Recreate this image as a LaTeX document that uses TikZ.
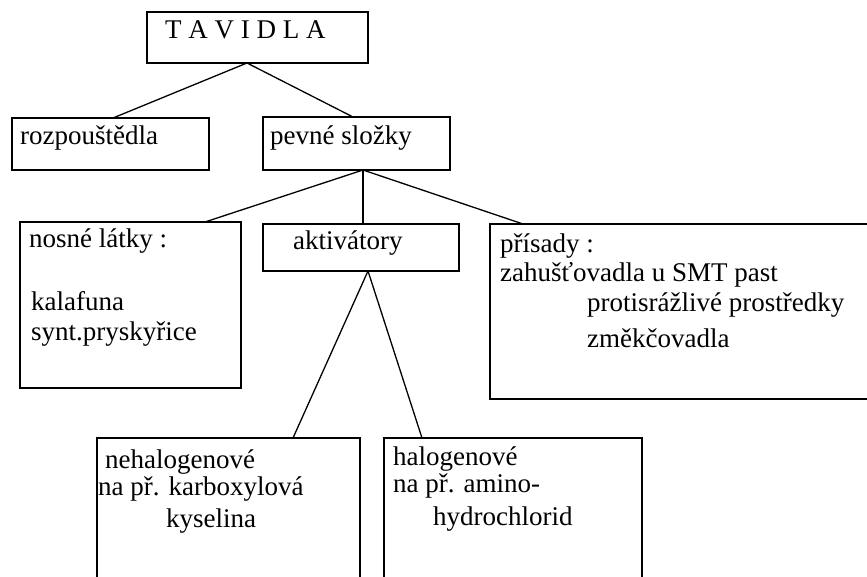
\documentclass[tikz,border=0pt]{standalone}
\usepackage{fontspec}
\setmainfont{Liberation Serif}
\begin{document}
\begin{tikzpicture}[x=1pt,y=-1pt,
  box/.style={draw=black, line width=1.4pt, inner sep=0pt, outer sep=0pt, anchor=north west},
  txt/.style={anchor=base west, inner sep=0pt, font=\fontsize{27}{30}\selectfont},
  link/.style={draw=black, line width=1.3pt}]
\useasboundingbox (0,0) rectangle (867,577);
\clip (0,0) rectangle (867,577);
\fill[white] (0,0) rectangle (867,577);
% boxes
\node[box, minimum width=221, minimum height=51] (tav) at (147,12) {};
\node[box, minimum width=197, minimum height=52] (roz) at (12,118) {};
\node[box, minimum width=187, minimum height=53] (pev) at (263,117) {};
\node[box, minimum width=221, minimum height=166] (nos) at (20,222) {};
\node[box, minimum width=196, minimum height=47] (akt) at (263,224) {};
\node[box, minimum width=400, minimum height=175] (pri) at (490,224) {};
\node[box, minimum width=263, minimum height=160] (neh) at (97,438) {};
\node[box, minimum width=258, minimum height=160] (hal) at (384,438) {};
% texts
\node[txt] (t1) at (165,39) {T A V I D L A};
\node[txt] (t2) at (20,145) {rozpouštědla};
\node[txt] (t3) at (270,145) {pevné složky};
\node[txt] (t4) at (29,248) {nosné látky :};
\node[txt] (t5) at (31,310) {kalafuna};
\node[txt] (t6) at (31,340) {synt.pryskyřice};
\node[txt] (t7) at (293,250) {aktivátory};
\node[txt] (t8) at (500,253) {přísady :};
\node[txt] (t9) at (500,282) {zahušťovadla u SMT past};
\node[txt] (t10) at (587,312) {protisrážlivé prostředky};
\node[txt] (t11) at (587,347) {změkčovadla};
\node[txt] (t12) at (105,468) {nehalogenové};
\node[txt] (t13) at (98,495) {na př. karboxylová};
\node[txt] (t14) at (166,527) {kyselina};
\node[txt] (t15) at (393,465) {halogenové};
\node[txt] (t16) at (393,492) {na př. amino-};
\node[txt] (t17) at (433,525) {hydrochlorid};
% connectors
\draw[link] ([xshift=-10.5]tav.south) -- ([xshift=2.5]roz.north);
\draw[link] ([xshift=-10.5]tav.south) -- ([xshift=-3.5]pev.north);
\draw[link] ([xshift=6.5]pev.south) -- ([xshift=74.5]nos.north);
\draw[link] ([xshift=6.5]pev.south) -- ([xshift=2]akt.north);
\draw[link] ([xshift=6.5]pev.south) -- ([xshift=33]pri.north west);
\draw[link] ([xshift=7]akt.south) -- ([xshift=196]neh.north west);
\draw[link] ([xshift=7]akt.south) -- ([xshift=38]hal.north west);
\end{tikzpicture}
\end{document}
